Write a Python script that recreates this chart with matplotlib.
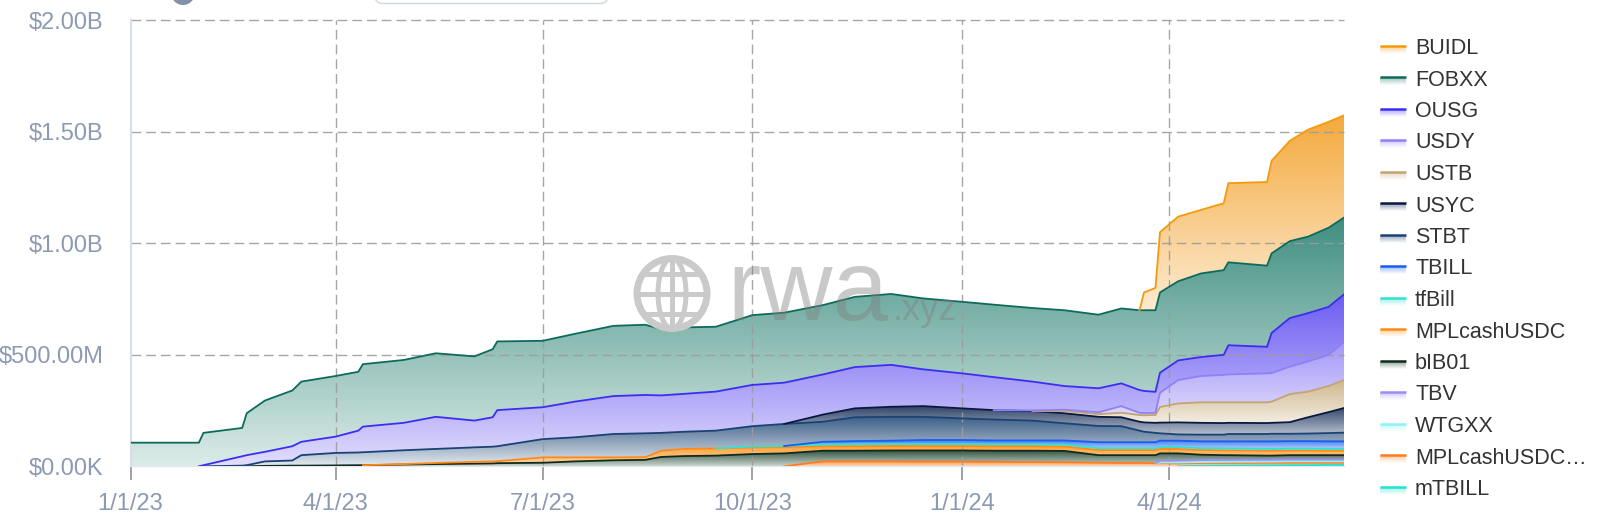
import numpy as np
import matplotlib
matplotlib.use('Agg')
import matplotlib.pyplot as plt
import matplotlib.dates as mdates
from matplotlib.colors import to_rgb
from matplotlib.patches import Circle, Ellipse, FancyBboxPatch

plt.rcParams['font.family'] = ['Liberation Sans', 'DejaVu Sans']
plt.rcParams['text.parse_math'] = False

# sample dates
dates = ['2023-01-01', '2023-01-31', '2023-02-02', '2023-02-19', '2023-02-21',
         '2023-03-01', '2023-03-13', '2023-03-17', '2023-04-01', '2023-04-11',
         '2023-04-13', '2023-05-01', '2023-05-15', '2023-06-01', '2023-06-09',
         '2023-06-11', '2023-07-01', '2023-07-15', '2023-08-01', '2023-08-15',
         '2023-08-22', '2023-09-01', '2023-09-15', '2023-10-01', '2023-10-15',
         '2023-11-01', '2023-11-15', '2023-12-01', '2023-12-15', '2024-01-01',
         '2024-01-15', '2024-02-01', '2024-02-15', '2024-03-01', '2024-03-11',
         '2024-03-19', '2024-03-21', '2024-03-26', '2024-03-28', '2024-04-05',
         '2024-04-15', '2024-04-25', '2024-04-27', '2024-05-14', '2024-05-16',
         '2024-05-24', '2024-06-01', '2024-06-10', '2024-06-17']

# values in $M
buidl = [0] * 36 + [80, 100, 270, 290, 285, 300, 355, 375, 415, 450, 480, 475, 458]
fobxx = [106, 106, 145, 127, 188, 230, 250, 270, 272, 264, 280, 282, 285, 288, 305,
         308, 298, 304, 315, 315, 297, 298, 291, 313, 314, 311, 315, 318, 318, 321,
         325, 330, 340, 330, 336, 358, 362, 366, 360, 355, 375, 380, 372, 364, 357,
         345, 343, 355, 344]
ousg = [0, 0, 5, 42, 45, 43, 64, 60, 73, 98, 115, 123, 144, 120, 132, 162, 143, 160,
        170, 172, 168, 170, 175, 185, 185, 180, 185, 188, 165, 157, 148, 129, 106, 108,
        102, 102, 99, 94, 90, 88, 85, 90, 131, 119, 180, 218, 217, 215, 215]
usdy = [0] * 31 + [3, 6, 8, 30, 10, 10, 10, 64, 105, 118, 123, 125, 130, 128, 123,
                   135, 140, 170]
ustb = [0] * 32 + [10, 12, 20, 30, 32, 35, 70, 85, 92, 93, 92, 93, 95, 126, 115, 117, 126]
usyc = [0] * 25 + [32, 40, 45, 48, 45, 42, 43, 45, 41, 40, 40, 42, 45, 48, 54, 53, 52,
                   50, 49, 49, 52, 73, 94, 111]
stbt = [0, 0, 0, 3, 5, 20, 23, 47, 56, 57, 58, 62, 63, 65, 66, 67, 82, 90, 105, 107,
        80, 77, 80, 91, 99, 90, 107, 107, 104, 97, 94, 89, 77, 73, 72, 52, 47, 42, 33,
        28, 30, 30, 33, 33, 34, 33, 34, 37, 39]
tbill = [0] * 25 + [12, 14, 15, 18, 18, 17, 17, 18, 27, 27, 27, 27, 27, 29, 29, 31, 32,
                    32, 34, 34, 34, 34, 34, 34]
tfbill = [0] * 23 + [4, 5, 8] + [9] * 7 + [8] * 16
mplcash = [0] * 11 + [2, 5, 8, 9, 9, 24, 18, 13, 12, 28, 32, 32, 30, 28, 20, 20, 20, 20,
                      20, 20, 20, 20, 23, 23, 23, 23, 23, 20, 20, 21, 22, 22, 22, 22,
                      21, 21, 20, 20]
bib01 = [0] * 5 + [2, 3, 3, 4, 5, 5, 8, 10, 12, 13, 14, 16, 22, 27, 29, 42, 46, 48, 55,
                   58, 48, 48, 49, 50, 50, 50, 51, 51, 34, 35, 35, 35, 36, 33, 32, 24,
                   21, 21, 18, 18, 19, 19, 19, 19]
tbv = [0] * 38 + [8, 9, 9, 9, 9, 9, 9, 9, 9, 9, 9]
wtgxx = [0] * 38 + [3, 4, 4, 5, 5, 5, 5, 6, 6, 6, 6]
mplcash2 = [0] * 25 + [22, 22, 22, 21, 21, 20, 19, 18, 16, 15, 15, 15, 14, 14, 13, 13,
                       12, 12, 12, 12, 11, 11, 10, 10]
mtbill = [0] * 40 + [2, 3, 3, 4, 4, 5, 5, 6, 6]

names = ['BUIDL', 'FOBXX', 'OUSG', 'USDY', 'USTB', 'USYC', 'STBT', 'TBILL', 'tfBill',
         'MPLcashUSDC', 'bIB01', 'TBV', 'WTGXX', 'MPLcashUSDC…', 'mTBILL']
values = [buidl, fobxx, ousg, usdy, ustb, usyc, stbt, tbill, tfbill, mplcash, bib01,
          tbv, wtgxx, mplcash2, mtbill]
line_colors = ['#f59a0a', '#0d6b5c', '#3b2ef2', '#8f80f8', '#c3a474', '#0a1a3f',
               '#1b4275', '#1a5cf5', '#2fe3d3', '#ff8a17', '#0f2b1f', '#9b8df6',
               '#8ef3f7', '#ff7d1f', '#20e3d0']
fill_top = ['#f4a93c', '#3f8e80', '#6c5cf3', '#a395f8', '#cfb68c', '#2f4369',
            '#3b5d86', '#3f7ff4', '#52e5d8', '#ffa23a', '#31533f', '#a597f7',
            '#a6f4f6', '#ff9a48', '#44e6d6']
fill_bottom = ['#fdebd2', '#dcece9', '#e2defd', '#ddd8fc', '#f3ede2', '#b8c1cf',
               '#e3e9f0', '#b2cdfa', '#bff5f0', '#ffd9ac', '#c8d3cc', '#d9d3fc',
               '#e0fbfc', '#ffd2ad', '#b8f5ef']

y_ticks = [0, 500, 1000, 1500, 2000]
y_labels = ['$0.00K', '$500.00M', '$1.00B', '$1.50B', '$2.00B']
x_ticks = ['2023-01-01', '2023-04-01', '2023-07-01', '2023-10-01', '2024-01-01', '2024-04-01']
x_labels = ['1/1/23', '4/1/23', '7/1/23', '10/1/23', '1/1/24', '4/1/24']

tick_col = '#8d9ab3'


def grad_img(c_top, c_bot, n=256):
    t = np.linspace(0, 1, n)[:, None, None]
    a = np.array(to_rgb(c_top))
    b = np.array(to_rgb(c_bot))
    return a * (1 - t) + b * t


fig = plt.figure(figsize=(16, 5.23), dpi=100)
ax = fig.add_axes([0.0816, 0.1084, 0.7587, 0.8526])

x = mdates.date2num(np.array(dates, dtype='datetime64[D]'))

# stacked areas, bottom series first
base = np.zeros(len(x))
for i in reversed(range(len(names))):
    v = np.array(values[i], float)
    top = base + v
    first = np.nonzero(v)[0][0]
    poly = ax.fill_between(x, base, top, facecolor='none', edgecolor='none')
    lo = base[first:].min()
    hi = top.max()
    im = ax.imshow(grad_img(fill_top[i], fill_bottom[i]), extent=(x[0], x[-1], lo, hi),
                   origin='upper', aspect='auto', interpolation='bilinear', zorder=1)
    im.set_clip_path(poly.get_paths()[0], transform=ax.transData)
    line_y = top.copy()
    line_y[:max(first - 1, 0)] = np.nan
    ax.plot(x, line_y, color=line_colors[i], lw=1.3, zorder=3, solid_joinstyle='round')
    base = top

ax.set_xlim(x[0], x[-1])
ax.set_ylim(0, 2000)

xt = mdates.date2num(np.array(x_ticks, dtype='datetime64[D]'))
ax.set_xticks(xt)
ax.set_xticklabels(x_labels)
ax.set_yticks(y_ticks)
ax.set_yticklabels(y_labels)

grid_style = dict(color='#9c9c9c', lw=1.0, ls=(0, (7, 3.6)), zorder=2.5, alpha=0.9)
for t in xt[1:]:
    ax.axvline(t, **grid_style)
for t in y_ticks[1:]:
    ax.axhline(t, clip_on=False, **grid_style)

ax.tick_params(axis='y', length=0, pad=19.5, labelsize=17, labelcolor=tick_col)
ax.tick_params(axis='x', length=10, width=1.3, color='#9a9a9a', pad=9,
               labelsize=17, labelcolor=tick_col)
for s in ['top', 'right']:
    ax.spines[s].set_visible(False)
ax.spines['left'].set_color('#d6dee9')
ax.spines['left'].set_linewidth(1.5)
ax.spines['bottom'].set_color('#e3e8ef')
ax.spines['bottom'].set_linewidth(1.0)

# overlay in pixel coordinates: watermark, legend, cut-off controls at the top
ov = fig.add_axes([0, 0, 1, 1], zorder=10)
ov.patch.set_visible(False)
ov.axis('off')

wm = '#cacaca'
gx, gy, gr = 672, 293.5, 35
ov.add_patch(Circle((gx, gy), gr, fill=False, ec=wm, lw=5))
ov.add_patch(Ellipse((gx, gy), 28, 2 * gr, fill=False, ec=wm, lw=3.6))
ov.plot([gx, gx], [gy - gr, gy + gr], color=wm, lw=3.6, solid_capstyle='butt')
for dy in (-20, 0, 20):
    half = np.sqrt(gr ** 2 - dy ** 2)
    ov.plot([gx - half, gx + half], [gy + dy, gy + dy], color=wm, lw=3.6,
            solid_capstyle='butt')
ov.text(727, 320, 'rwa', fontsize=72, color='#808080', alpha=0.42, va='baseline', ha='left')
ov.text(893, 320, '.xyz', fontsize=26, color='#808080', alpha=0.42, va='baseline', ha='left')

ov.add_patch(FancyBboxPatch((375, -30), 233, 33.5, boxstyle='round,pad=0,rounding_size=8',
                            fc='white', ec='#cfd6e0', lw=1))
ov.add_patch(Circle((183, -7), 12, fc='#8390a8', ec='none'))

for i, name in enumerate(names):
    yc = 45.7 + 31.5 * i
    c_hi = 0.55 * np.array(to_rgb(fill_top[i])) + 0.45
    ov.imshow(grad_img(c_hi, '#ffffff'), extent=(1380, 1406, yc + 8, yc),
              origin='upper', aspect='auto', zorder=1)
    ov.plot([1380, 1406], [yc, yc], color=line_colors[i], lw=1.8, solid_capstyle='butt')
    ov.text(1415, yc + 8.3, name, fontsize=15.5, color='#333333', va='baseline', ha='left')

ov.set_xlim(0, 1600)
ov.set_ylim(523, 0)

fig.savefig('out.png', dpi=100)
